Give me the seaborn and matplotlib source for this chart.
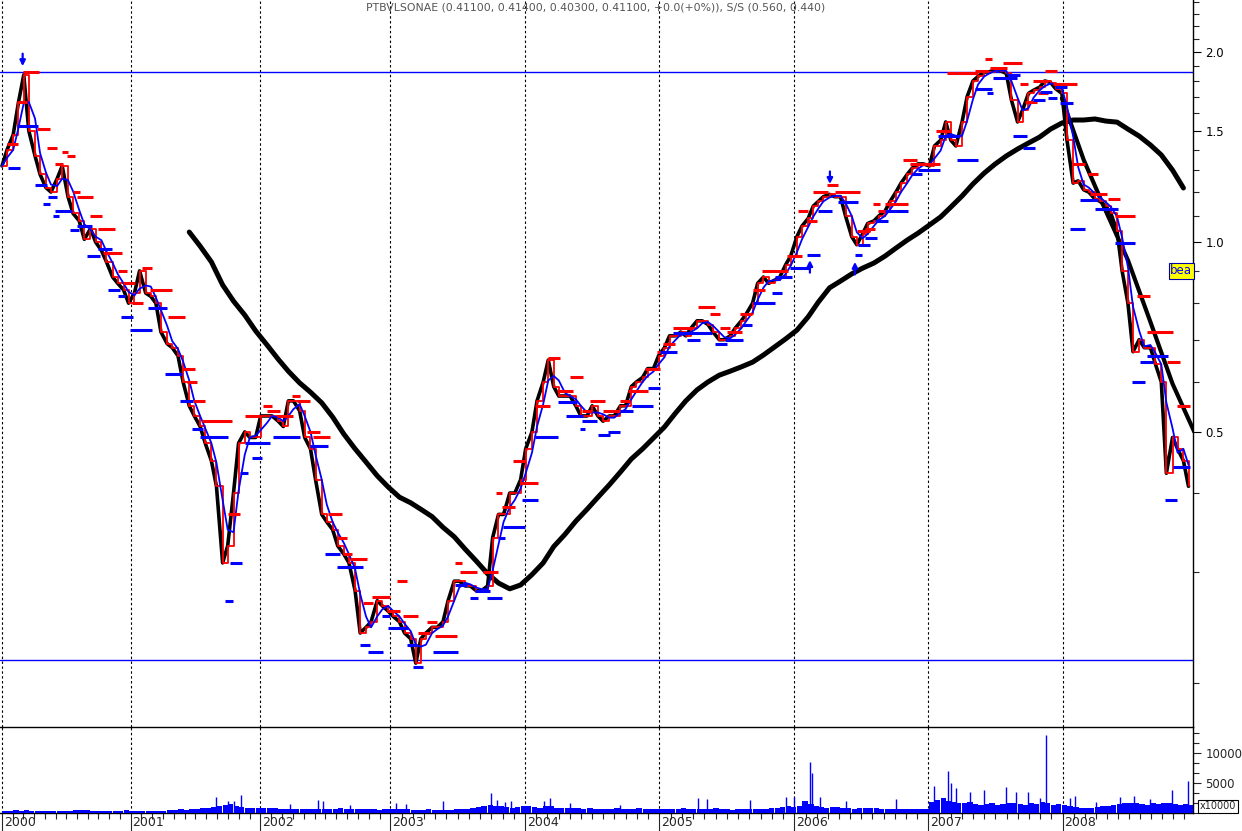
import numpy as np
import pandas as pd
import seaborn as sns
import matplotlib

matplotlib.use('Agg')
import matplotlib.pyplot as plt
import matplotlib.ticker as mticker
import matplotlib.transforms as mtrans

# ------------------------------------------------------------------
# data (prices in EUR, volume in units of 10000)
# ------------------------------------------------------------------
# semi-monthly closes, 2000-01-01 .. 2008-12-15
close = [
    1.32, 1.40, 1.48, 1.66, 1.84, 1.50, 1.37, 1.28, 1.22, 1.20, 1.26, 1.32,
    1.18, 1.11, 1.08, 1.01, 1.05, 1.00, 0.97, 0.93, 0.88, 0.86, 0.84, 0.80,   # 2000
    0.83, 0.90, 0.83, 0.82, 0.80, 0.72, 0.69, 0.68, 0.66, 0.60, 0.55, 0.53,
    0.51, 0.48, 0.45, 0.41, 0.31, 0.33, 0.40, 0.48, 0.50, 0.49, 0.49, 0.53,   # 2001
    0.53, 0.53, 0.52, 0.51, 0.56, 0.56, 0.54, 0.49, 0.47, 0.42, 0.37, 0.36,
    0.35, 0.33, 0.32, 0.31, 0.28, 0.24, 0.245, 0.25, 0.27, 0.265, 0.26, 0.255,  # 2002
    0.25, 0.24, 0.235, 0.215, 0.235, 0.24, 0.245, 0.245, 0.25, 0.27, 0.29, 0.29,
    0.285, 0.285, 0.28, 0.28, 0.285, 0.34, 0.37, 0.37, 0.40, 0.40, 0.42, 0.47,  # 2003
    0.50, 0.56, 0.60, 0.65, 0.59, 0.57, 0.57, 0.57, 0.55, 0.53, 0.53, 0.55,
    0.53, 0.52, 0.53, 0.53, 0.55, 0.55, 0.59, 0.60, 0.61, 0.63, 0.63, 0.66,   # 2004
    0.68, 0.71, 0.71, 0.72, 0.71, 0.73, 0.75, 0.75, 0.74, 0.72, 0.70, 0.70,
    0.71, 0.73, 0.75, 0.77, 0.80, 0.86, 0.88, 0.86, 0.87, 0.88, 0.92, 0.95,   # 2005
    1.02, 1.06, 1.09, 1.14, 1.16, 1.18, 1.19, 1.18, 1.18, 1.10, 1.02, 0.99,
    1.03, 1.07, 1.08, 1.10, 1.12, 1.16, 1.20, 1.24, 1.28, 1.31, 1.33, 1.33,   # 2006
    1.32, 1.42, 1.45, 1.55, 1.45, 1.42, 1.55, 1.70, 1.80, 1.83, 1.86, 1.86,
    1.88, 1.87, 1.85, 1.68, 1.55, 1.62, 1.72, 1.74, 1.76, 1.80, 1.79, 1.75,   # 2007
    1.72, 1.45, 1.24, 1.25, 1.21, 1.20, 1.17, 1.16, 1.14, 1.11, 1.04, 0.90,
    0.80, 0.67, 0.70, 0.68, 0.68, 0.64, 0.60, 0.43, 0.49, 0.47, 0.45, 0.41,   # 2008
]

# long smoothed curve (thick black), monthly 2001-06 .. 2008-12
long_ma = [
    1.037, 0.985, 0.930, 0.855, 0.806, 0.766, 0.723,                          # 2001
    0.687, 0.652, 0.624, 0.598, 0.578, 0.556, 0.528, 0.496, 0.470, 0.448, 0.426, 0.409,   # 2002
    0.394, 0.386, 0.377, 0.367, 0.353, 0.341, 0.326, 0.312, 0.298, 0.288, 0.282, 0.286,   # 2003
    0.297, 0.310, 0.329, 0.344, 0.361, 0.377, 0.394, 0.412, 0.432, 0.453, 0.470, 0.489,   # 2004
    0.509, 0.536, 0.560, 0.583, 0.600, 0.615, 0.624, 0.634, 0.645, 0.662, 0.682, 0.702,   # 2005
    0.725, 0.761, 0.803, 0.846, 0.867, 0.890, 0.909, 0.926, 0.950, 0.978, 1.007, 1.033,   # 2006
    1.064, 1.096, 1.136, 1.183, 1.236, 1.286, 1.329, 1.369, 1.404, 1.435, 1.467, 1.510,   # 2007
    1.544, 1.561, 1.561, 1.567, 1.555, 1.549, 1.510, 1.472, 1.425, 1.374, 1.300, 1.218,   # 2008
]

# 2008 down trend line
trend_dates = ['2008-01-01', '2008-03-01', '2008-05-01', '2008-07-01',
               '2008-09-01', '2008-11-01', '2008-12-31']
trend_vals = [1.69, 1.35, 1.12, 0.936, 0.747, 0.596, 0.50]

# resistance stubs (red): start, end, level
red_levels = [
    (2000.158, 2000.279, 1.86), (2000.113, 2000.189, 1.67), (2000.038, 2000.121, 1.43),
    (2000.264, 2000.362, 1.51), (2000.340, 2000.415, 1.41), (2000.400, 2000.460, 1.33),
    (2000.453, 2000.498, 1.39), (2000.491, 2000.551, 1.37), (2000.536, 2000.589, 1.20),
    (2000.566, 2000.687, 1.18), (2000.664, 2000.755, 1.10), (2000.725, 2000.853, 1.05),
    (2000.762, 2000.906, 0.96), (2000.875, 2000.943, 0.90), (2000.913, 2001.004, 0.86),
    (2000.981, 2001.064, 0.80), (2001.057, 2001.132, 0.91), (2001.117, 2001.283, 0.84),
    (2001.253, 2001.381, 0.76), (2001.358, 2001.457, 0.63), (2001.396, 2001.472, 0.60),
    (2001.442, 2001.532, 0.56), (2001.509, 2001.736, 0.52), (2001.706, 2001.796, 0.37),
    (2001.834, 2001.947, 0.53), (2001.970, 2002.038, 0.55), (2002.000, 2002.098, 0.54),
    (2002.075, 2002.196, 0.53), (2002.189, 2002.249, 0.57), (2002.226, 2002.325, 0.56),
    (2002.302, 2002.400, 0.50), (2002.347, 2002.475, 0.49), (2002.460, 2002.566, 0.37),
    (2002.528, 2002.604, 0.34), (2002.574, 2002.642, 0.32), (2002.626, 2002.755, 0.315),
    (2002.725, 2002.800, 0.268), (2002.792, 2002.928, 0.274), (2002.906, 2003.004, 0.26),
    (2002.981, 2003.057, 0.29), (2003.026, 2003.140, 0.255), (2003.140, 2003.230, 0.24),
    (2003.208, 2003.283, 0.25), (2003.268, 2003.434, 0.237), (2003.419, 2003.472, 0.31),
    (2003.457, 2003.585, 0.30), (2003.630, 2003.743, 0.30), (2003.728, 2003.774, 0.40),
    (2003.774, 2003.872, 0.38), (2003.857, 2003.947, 0.45), (2003.909, 2004.045, 0.415),
    (2004.023, 2004.136, 0.55), (2004.121, 2004.211, 0.655), (2004.189, 2004.309, 0.58),
    (2004.287, 2004.385, 0.61), (2004.377, 2004.453, 0.54), (2004.438, 2004.551, 0.56),
    (2004.536, 2004.664, 0.54), (2004.664, 2004.740, 0.56), (2004.725, 2004.875, 0.58),
    (2004.853, 2004.966, 0.63), (2004.943, 2005.026, 0.67), (2004.989, 2005.079, 0.69),
    (2005.064, 2005.215, 0.73), (2005.253, 2005.381, 0.79), (2005.343, 2005.419, 0.77),
    (2005.419, 2005.494, 0.73), (2005.472, 2005.585, 0.72), (2005.570, 2005.660, 0.77),
    (2005.668, 2005.758, 0.84), (2005.736, 2005.932, 0.90), (2005.925, 2006.038, 0.95),
    (2006.008, 2006.083, 1.12), (2006.075, 2006.151, 1.08), (2006.121, 2006.234, 1.20),
    (2006.226, 2006.309, 1.23), (2006.287, 2006.475, 1.20), (2006.453, 2006.551, 1.04),
    (2006.513, 2006.589, 1.05), (2006.574, 2006.626, 1.15), (2006.611, 2006.702, 1.12),
    (2006.664, 2006.838, 1.15), (2006.800, 2006.906, 1.35), (2006.853, 2006.951, 1.33),
    (2006.928, 2007.079, 1.33), (2007.049, 2007.155, 1.50), (2007.132, 2007.366, 1.85),
    (2007.343, 2007.442, 1.87), (2007.419, 2007.472, 1.95), (2007.457, 2007.585, 1.89),
    (2007.555, 2007.698, 1.92), (2007.683, 2007.743, 1.78), (2007.721, 2007.811, 1.67),
    (2007.781, 2007.894, 1.80), (2007.819, 2007.894, 1.72), (2007.872, 2007.962, 1.87),
    (2007.932, 2008.113, 1.78), (2008.075, 2008.174, 1.33), (2008.196, 2008.272, 1.28),
    (2008.211, 2008.340, 1.19), (2008.347, 2008.438, 1.17), (2008.400, 2008.551, 1.10),
    (2008.566, 2008.664, 0.82), (2008.642, 2008.838, 0.72), (2008.792, 2008.891, 0.645),
    (2008.868, 2008.966, 0.55),
]

# support stubs (blue): start, end, level
blue_levels = [
    (2000.045, 2000.136, 1.31), (2000.113, 2000.272, 1.53), (2000.249, 2000.340, 1.23),
    (2000.309, 2000.362, 1.15), (2000.347, 2000.415, 1.18), (2000.385, 2000.430, 1.10),
    (2000.400, 2000.528, 1.12), (2000.513, 2000.581, 1.045), (2000.566, 2000.679, 1.06),
    (2000.642, 2000.740, 0.95), (2000.725, 2000.830, 0.975), (2000.800, 2000.891, 0.84),
    (2000.875, 2000.928, 0.82), (2000.898, 2000.989, 0.76), (2000.966, 2001.132, 0.725),
    (2001.102, 2001.245, 0.786), (2001.230, 2001.358, 0.617), (2001.343, 2001.442, 0.56),
    (2001.434, 2001.517, 0.505), (2001.494, 2001.706, 0.49), (2001.683, 2001.743, 0.27),
    (2001.721, 2001.811, 0.31), (2001.796, 2001.857, 0.43), (2001.834, 2001.962, 0.48),
    (2001.887, 2001.962, 0.455), (2001.932, 2002.023, 0.48), (2002.045, 2002.249, 0.49),
    (2002.325, 2002.460, 0.475), (2002.438, 2002.551, 0.32), (2002.528, 2002.725, 0.305),
    (2002.702, 2002.777, 0.23), (2002.762, 2002.875, 0.224), (2002.868, 2002.928, 0.255),
    (2002.913, 2003.064, 0.244), (2003.057, 2003.132, 0.23), (2003.102, 2003.177, 0.212),
    (2003.253, 2003.442, 0.224), (2003.419, 2003.509, 0.286), (2003.532, 2003.592, 0.273),
    (2003.570, 2003.683, 0.28), (2003.660, 2003.774, 0.273), (2003.743, 2003.796, 0.34),
    (2003.781, 2003.947, 0.353), (2003.925, 2004.045, 0.39), (2004.023, 2004.196, 0.49),
    (2004.196, 2004.340, 0.557), (2004.257, 2004.385, 0.53), (2004.362, 2004.400, 0.505),
    (2004.377, 2004.491, 0.52), (2004.498, 2004.589, 0.495), (2004.574, 2004.664, 0.50),
    (2004.664, 2004.762, 0.54), (2004.755, 2004.913, 0.55), (2004.875, 2004.966, 0.587),
    (2004.966, 2005.094, 0.67), (2005.064, 2005.253, 0.717), (2005.170, 2005.268, 0.70),
    (2005.245, 2005.358, 0.717), (2005.381, 2005.472, 0.69), (2005.457, 2005.592, 0.70),
    (2005.585, 2005.660, 0.74), (2005.668, 2005.834, 0.80), (2005.811, 2005.887, 0.83),
    (2005.834, 2005.962, 0.88), (2005.947, 2006.098, 0.91), (2006.075, 2006.174, 0.953),
    (2006.158, 2006.264, 1.12), (2006.309, 2006.460, 1.157), (2006.438, 2006.491, 0.953),
    (2006.460, 2006.551, 0.99), (2006.513, 2006.604, 1.015), (2006.589, 2006.687, 1.08),
    (2006.664, 2006.838, 1.12), (2006.868, 2006.943, 1.28), (2006.913, 2007.079, 1.30),
    (2007.064, 2007.230, 1.47), (2007.208, 2007.366, 1.35), (2007.343, 2007.472, 1.75),
    (2007.434, 2007.479, 1.72), (2007.479, 2007.660, 1.82), (2007.592, 2007.683, 1.84),
    (2007.630, 2007.736, 1.47), (2007.706, 2007.796, 1.41), (2007.781, 2007.872, 1.68),
    (2007.834, 2007.925, 1.73), (2007.894, 2007.962, 1.69), (2007.947, 2008.038, 1.76),
    (2007.985, 2008.083, 1.66), (2008.060, 2008.174, 1.05), (2008.136, 2008.272, 1.165),
    (2008.249, 2008.423, 1.13), (2008.400, 2008.551, 0.996), (2008.528, 2008.626, 0.60),
    (2008.589, 2008.687, 0.645), (2008.642, 2008.800, 0.66), (2008.777, 2008.868, 0.39),
    (2008.838, 2008.966, 0.44),
]

# signal arrows: (position, price at arrow head)
arrows_down = [(2000.156, 1.90), (2006.249, 1.236)]
arrows_up = [(2006.098, 0.936), (2006.438, 0.930)]

# horizontal channel lines
channel = [1.86, 0.2175]

# volume: semi-monthly base level + single-day spikes
vol_base = [
    350, 400, 450, 380, 420, 350, 300, 330, 280, 300, 320, 350, 400, 550, 500, 420, 380, 350, 330, 300, 320, 380, 420, 350,
    400, 350, 300, 320, 350, 380, 420, 500, 600, 550, 650, 700, 800, 900, 1000, 1100, 1300, 1500, 1200, 1000, 900, 800, 850, 900,
    900, 800, 750, 700, 650, 700, 600, 650, 700, 650, 600, 700, 750, 800, 700, 650, 600, 700, 650, 600, 550, 650, 700, 750,
    650, 600, 550, 500, 550, 600, 500, 450, 550, 500, 600, 650, 700, 900, 1000, 1100, 1300, 1200, 1100, 1000, 900, 1000, 1200, 1100,
    1000, 900, 1200, 1100, 900, 800, 850, 900, 800, 750, 800, 700, 650, 700, 750, 800, 700, 650, 750, 800, 700, 650, 700, 750,
    600, 650, 700, 800, 700, 650, 600, 700, 750, 800, 650, 600, 550, 600, 700, 650, 600, 650, 700, 800, 900, 1000, 1100, 1000,
    1200, 2000, 1500, 1200, 1000, 900, 950, 1000, 900, 800, 750, 800, 900, 850, 800, 750, 700, 650, 700, 750, 700, 650, 600, 700,
    1800, 2200, 2500, 2000, 1800, 1700, 1600, 1800, 1500, 1400, 1500, 1600, 1400, 1500, 1700, 1600, 1500, 1400, 1600, 1500, 1800, 1600, 1400, 1500,
    1400, 1200, 1000, 900, 800, 900, 1000, 1100, 1200, 1400, 1500, 1600, 1700, 1600, 1500, 1400, 1600, 1500, 1700, 1600, 1500, 1400, 1500, 1300,
]
spike_t = [2001.615, 2001.706, 2001.751, 2001.804, 2002.174, 2002.385, 2002.423, 2002.626,
           2002.974, 2003.049, 2003.328, 2003.691, 2003.736, 2003.796, 2003.842, 2004.091,
           2004.136, 2004.287, 2004.664, 2005.253, 2005.321, 2005.645, 2005.917, 2005.977,
           2006.098, 2006.113, 2006.174, 2006.370, 2006.747, 2007.034, 2007.140, 2007.162,
           2007.200, 2007.306, 2007.411, 2007.577, 2007.653, 2007.743, 2007.834, 2007.879,
           2008.060, 2008.098, 2008.257, 2008.438, 2008.543, 2008.664, 2008.830, 2008.951]
spike_v = [2740, 1970, 2080, 3070, 1500, 2250, 1970, 1300,
           1750, 1420, 2080, 3400, 2200, 1900, 2080, 2080,
           2520, 1600, 1300, 2520, 2360, 2190, 2740, 2630,
           8490, 6600, 2740, 2080, 2360, 4550, 7000, 5000,
           4200, 3450, 3900, 4270, 3450, 3450, 2500, 13000,
           2500, 2800, 1800, 2600, 2900, 2400, 3800, 5370]

# the chart's time axis is trading-day based: year boundaries on that scale
years = list(range(2000, 2009))
year_starts = [2000.000, 2000.970, 2001.951, 2002.932, 2003.947,
               2004.961, 2005.981, 2006.991, 2008.005]

title = ("PTBVLSONAE (0.41100, 0.41400, 0.40300, 0.41100, +0.0(+0%)), "
         "S/S (0.560, 0.440)")


def dec_year(dates):
    dates = pd.DatetimeIndex(dates)
    return np.asarray(dates.year + (dates.dayofyear - 1) / 365.25)


t_close = dec_year(pd.date_range('2000-01-01', periods=len(close), freq='SMS'))
t_long = dec_year(pd.date_range('2001-06-01', periods=len(long_ma), freq='MS'))
t_trend = dec_year(trend_dates)
blue_ma = pd.Series(close).rolling(3, min_periods=1).mean().values

# month ticks: twelve steps inside each year
edges = year_starts + [year_starts[-1] + 1.0]
month_ticks = np.concatenate([np.linspace(a, b, 13)[1:-1] for a, b in zip(edges[:-1], edges[1:])])

# ------------------------------------------------------------------
# figure
# ------------------------------------------------------------------
sns.set_style("white")
plt.rcParams['font.family'] = ['DejaVu Sans']

fig = plt.figure(figsize=(12.42, 8.31), dpi=100, facecolor='white')
ax = fig.add_axes([0.0, 0.12515, 0.9605, 0.87485])
axv = fig.add_axes([0.0, 0.02166, 0.9605, 0.10349], sharex=ax)

x_lo, x_hi = 1999.985, 2008.989

for a in (ax, axv):
    for ys in year_starts:
        a.axvline(ys, color='black', ls=(0, (2.2, 2.2)), lw=0.8, zorder=1)

for lvl in channel:
    ax.axhline(lvl, color='blue', lw=1.0, zorder=2)

sns.lineplot(x=t_long, y=long_ma, ax=ax, color='black', lw=3.6,
             estimator=None, sort=False, zorder=3)
sns.lineplot(x=t_trend, y=trend_vals, ax=ax, color='black', lw=3.0,
             estimator=None, sort=False, zorder=3)

sns.lineplot(x=t_close, y=close, ax=ax, color='black', lw=2.6,
             estimator=None, sort=False, zorder=4)
sns.lineplot(x=t_close, y=close, ax=ax, color='red', lw=1.3,
             estimator=None, sort=False, drawstyle='steps-post', zorder=5)
sns.lineplot(x=t_close, y=blue_ma, ax=ax, color='blue', lw=1.3,
             estimator=None, sort=False, zorder=6)

r0, r1, rl = zip(*red_levels)
ax.hlines(rl, r0, r1, colors='red', lw=2.2, zorder=7)
b0, b1, bl = zip(*blue_levels)
ax.hlines(bl, b0, b1, colors='blue', lw=2.2, zorder=7)

for pos, p in arrows_down:
    ax.annotate('', xy=(pos, p), xytext=(0, 9), textcoords='offset points',
                arrowprops=dict(arrowstyle='-|>', color='blue', lw=1.6,
                                mutation_scale=8, shrinkA=0, shrinkB=0), zorder=8)
for pos, p in arrows_up:
    ax.annotate('', xy=(pos, p), xytext=(0, -9), textcoords='offset points',
                arrowprops=dict(arrowstyle='-|>', color='blue', lw=1.6,
                                mutation_scale=8, shrinkA=0, shrinkB=0), zorder=8)

ax.set_yscale('log')
ax.set_ylim(0.1703, 2.419)
ax.set_xlim(x_lo, x_hi)
ax.set_xlabel('')
ax.set_ylabel('')
ax.yaxis.tick_right()
ax.yaxis.set_major_locator(mticker.FixedLocator([0.5, 1.0, 1.5, 2.0]))
ax.yaxis.set_major_formatter(mticker.FixedFormatter(['0.5', '1.0', '1.5', '2.0']))
ax.yaxis.set_minor_locator(mticker.FixedLocator(np.round(np.arange(0.2, 2.45, 0.1), 2)))
ax.yaxis.set_minor_formatter(mticker.NullFormatter())
ax.tick_params(axis='y', which='major', right=True, length=6, width=0.8,
               labelsize=8.5, pad=3, colors='black')
ax.tick_params(axis='y', which='minor', right=True, length=4, width=0.8)
ax.tick_params(axis='x', which='both', bottom=False, labelbottom=False)
for side in ('left', 'top', 'bottom'):
    ax.spines[side].set_visible(False)
ax.spines['right'].set_color('black')
ax.spines['right'].set_linewidth(1.0)

ax.text(0.499, 0.997, title, transform=ax.transAxes, ha='center', va='top',
        fontsize=7.8, color='#555555')
ax.text(0.9995, 0.90, 'bea', transform=mtrans.blended_transform_factory(ax.transAxes, ax.transData),
        ha='right', va='center', fontsize=8.5, color='blue', zorder=9,
        bbox=dict(boxstyle='square,pad=0.15', fc='yellow', ec='#0000aa', lw=0.8))

# volume panel
axv.bar(t_close, vol_base, width=1 / 24, align='edge', color='blue', lw=0, zorder=3)
axv.vlines(spike_t, 0, spike_v, colors='blue', lw=1.0, zorder=3)
axv.set_ylim(0, 14333)
axv.set_xlim(x_lo, x_hi)
axv.yaxis.tick_right()
axv.yaxis.set_major_locator(mticker.FixedLocator([5000, 10000]))
axv.yaxis.set_minor_locator(mticker.MultipleLocator(10000 / 6))
axv.tick_params(axis='y', which='major', right=True, length=6, width=0.8, labelsize=8.5, pad=3)
axv.tick_params(axis='y', which='minor', right=True, length=4, width=0.8)
axv.xaxis.set_major_locator(mticker.FixedLocator(year_starts))
axv.xaxis.set_minor_locator(mticker.FixedLocator(month_ticks))
axv.tick_params(axis='x', which='major', bottom=True, length=14, width=0.8, labelbottom=False)
axv.tick_params(axis='x', which='minor', bottom=True, length=4, width=0.8)
axv.spines['left'].set_visible(False)
for side in ('top', 'right', 'bottom'):
    axv.spines[side].set_color('black')
    axv.spines[side].set_linewidth(1.0)

xt = mtrans.blended_transform_factory(axv.transData, axv.transAxes)
for yr, ys in zip(years, year_starts):
    axv.text(ys + 0.015, -0.03, str(yr), transform=xt, ha='left', va='top', fontsize=9)

fig.text(0.9807, 0.0295, 'x10000', ha='center', va='center', fontsize=7,
         bbox=dict(boxstyle='square,pad=0.15', fc='white', ec='black', lw=0.8))

fig.savefig('out.png', dpi=100, facecolor='white')
